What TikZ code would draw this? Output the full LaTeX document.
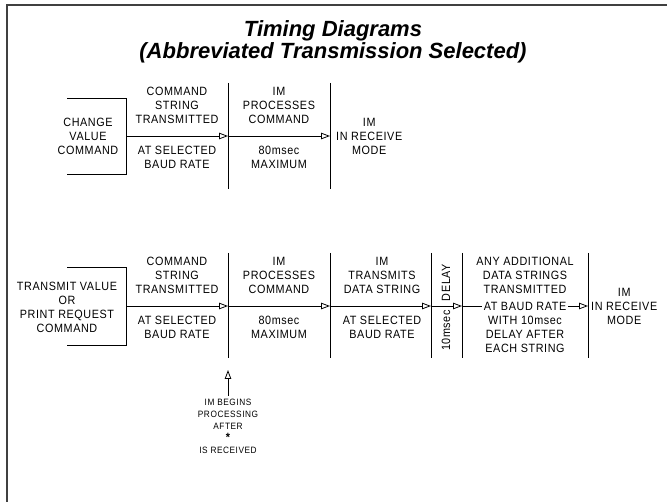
\documentclass[tikz,border=0pt]{standalone}
\usepackage{fontspec}
\setmainfont{Liberation Sans}
\usetikzlibrary{arrows.meta, positioning}

\newcommand{\titlefont}{\bfseries\itshape\fontsize{22}{22}\selectfont}
\newcommand{\lblfont}{\addfontfeatures{FakeStretch=0.9, LetterSpace=5}\fontsize{12}{14}\selectfont}
\newcommand{\notefont}{\addfontfeatures{FakeStretch=0.9, LetterSpace=6}\fontsize{9.2}{12}\selectfont}

\begin{document}
\begin{tikzpicture}[
    x=1pt, y=-1pt,
    lbl/.style={align=center, inner sep=0pt, font=\lblfont},
    note/.style={align=center, inner sep=3pt, font=\notefont},
    sig/.style={-{Triangle[open, length=9pt, width=6.5pt]}, line width=0.8pt},
    divider/.style={line width=0.8pt},
    frame/.style={line width=2pt, black!75}
]
\useasboundingbox (0,0) rectangle (667,502);

% Rahmen und Titel
\draw[frame] (7,510) -- (7,5) -- (675,5);
\node[font=\titlefont, align=center] (title) at (333,42)
    {Timing Diagrams\\(Abbreviated Transmission Selected)};

% Erstes Diagramm: Wert aendern
\coordinate (A0) at (126,136);
\coordinate (A1) at (228,136);
\coordinate (A2) at (330,136);

\draw[divider] (67,98) -- (126,98) -- (126,174) -- (67,174);
\draw[divider] (228,83) -- (228,189);
\draw[divider] (330,83) -- (330,189);

\draw[sig] (A0) -- (A1);
\draw[sig] (A1) -- (A2);

\node[lbl] (chg) at (88,136) {CHANGE\\VALUE\\COMMAND};
\node[lbl, anchor=south] (cmdA) at (177,124) {COMMAND\\STRING\\TRANSMITTED};
\node[lbl, anchor=north] (baudA) at (177,146) {AT SELECTED\\BAUD RATE};
\node[lbl, anchor=south] (procA) at (279,124) {IM\\PROCESSES\\COMMAND};
\node[lbl, anchor=north] (maxA) at (279,146) {80msec\\MAXIMUM};
\node[lbl, anchor=west] (rcvA) at (336,136) {IM\\IN RECEIVE\\MODE};

% Zweites Diagramm: Wert senden oder drucken
\coordinate (B0) at (126,306);
\coordinate (B1) at (228,306);
\coordinate (B2) at (330,306);
\coordinate (B3) at (431,306);
\coordinate (B4) at (462,306);
\coordinate (B5) at (588,306);

\draw[divider] (67,267) -- (126,267) -- (126,345) -- (67,345);
\foreach \x in {228,330,431,462,588}
    \draw[divider] (\x,253) -- (\x,358);

\draw[sig] (B0) -- (B1);
\draw[sig] (B1) -- (B2);
\draw[sig] (B2) -- (B3);
\draw[sig] (B3) -- (B4);
\draw[sig] (B4) -- (B5);

\node[lbl] (xmit) at (67,307) {TRANSMIT VALUE\\OR\\PRINT REQUEST\\COMMAND};
\node[lbl, anchor=south] (cmdB) at (177,294) {COMMAND\\STRING\\TRANSMITTED};
\node[lbl, anchor=north] (baudB) at (177,316) {AT SELECTED\\BAUD RATE};
\node[lbl, anchor=south] (procB) at (279,294) {IM\\PROCESSES\\COMMAND};
\node[lbl, anchor=north] (maxB) at (279,316) {80msec\\MAXIMUM};
\node[lbl, anchor=south] (dataB) at (382,294) {IM\\TRANSMITS\\DATA STRING};
\node[lbl, anchor=north] (baudC) at (382,316) {AT SELECTED\\BAUD RATE};
\node[lbl, rotate=90] (delay) at (446,307.5) {10msec\hspace{9pt}DELAY};
\node[lbl, anchor=south] (more) at (525,294) {ANY ADDITIONAL\\DATA STRINGS\\TRANSMITTED};
\node[lbl, fill=white, inner xsep=2pt, inner ysep=1pt] (rate) at (525,306) {AT BAUD RATE};
\node[lbl, anchor=north] (each) at (525,316) {WITH 10msec\\DELAY AFTER\\EACH STRING};
\node[lbl, anchor=west] (rcvB) at (591,306) {IM\\IN RECEIVE\\MODE};

% Hinweis unter dem Diagramm
\coordinate (tip) at (228,370);
\node[note, anchor=north] (begin) at (228,396)
    {IM BEGINS\\PROCESSING\\AFTER\\{\fontsize{12}{12}\selectfont\bfseries *}\\IS RECEIVED};
\draw[sig] (begin.north) -- (tip);

\end{tikzpicture}
\end{document}
